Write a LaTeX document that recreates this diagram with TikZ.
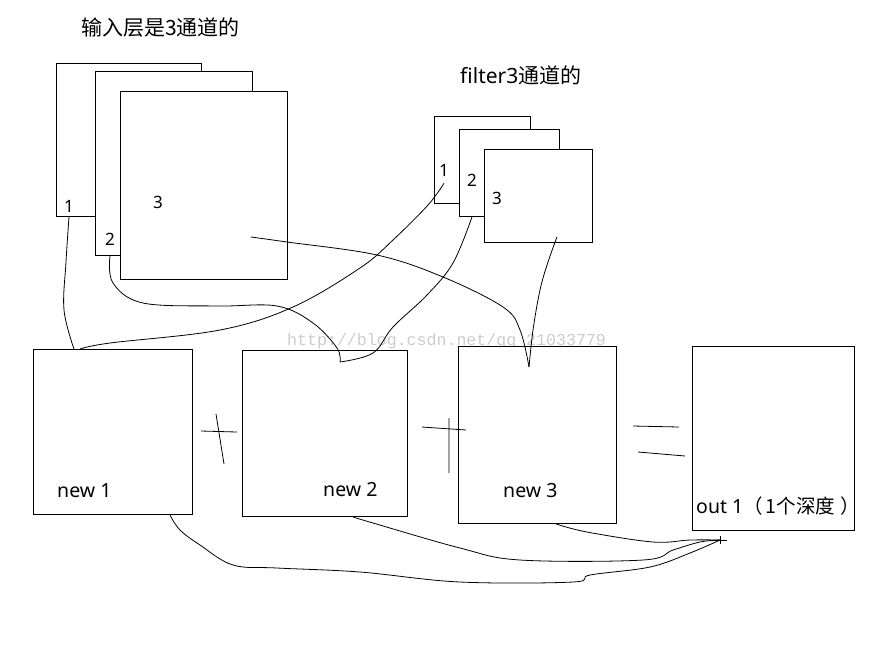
\documentclass[tikz,border=0pt]{standalone}
\usepackage{fontspec}
\setmainfont{Noto Sans}
\newfontfamily\cjk{Noto Sans CJK SC}
\newfontfamily\wmfont{Liberation Mono}

\begin{document}
\begin{tikzpicture}[x=1pt, y=-1pt,
    sheet/.style={rectangle, draw, fill=white, line width=0.9pt, inner sep=0pt, anchor=north west},
    hand/.style={line width=0.8pt},
    digit/.style={inner sep=0pt, font=\fontsize{17}{17}\selectfont},
    txt/.style={anchor=base west, inner sep=0pt, font=\fontsize{19.5}{22}\selectfont}]
    \useasboundingbox (0,0) rectangle (877,657);

    \node[anchor=base west, inner sep=0pt, text=black!20, font=\wmfont\fontsize{16.6}{17}\selectfont] (mark) at (287,345) {http://blog.csdn.net/qq\_21033779};

    % input layer, three channels
    \node[txt, font=\cjk\fontsize{21}{24}\selectfont] (intitle) at (81,35) {输入层是3通道的};
    \node[sheet, minimum width=145, minimum height=153] (in1) at (56,63) {};
    \node[sheet, minimum width=157, minimum height=184] (in2) at (95,71) {};
    \node[sheet, minimum width=167, minimum height=188] (in3) at (120,91) {};
    \node[digit] (lab1) at (69,206) {1};
    \node[digit] (lab2) at (110,239) {2};
    \node[digit] (lab3) at (158,202) {3};

    % filter, three channels
    \node[txt, font=\fontsize{21}{24}\selectfont] (ftitle) at (460,83) {filter3{\cjk 通道的}};
    \node[sheet, minimum width=96, minimum height=87] (f1) at (434,116) {};
    \node[sheet, minimum width=100, minimum height=87] (f2) at (459,129) {};
    \node[sheet, minimum width=108, minimum height=93] (f3) at (484,149) {};
    \node[digit] (lf1) at (444,170) {1};
    \node[digit] (lf2) at (472,180) {2};
    \node[digit] (lf3) at (497,198) {3};

    % results per channel and the output
    \node[sheet, minimum width=159, minimum height=165] (n1) at (33,349) {};
    \node[sheet, minimum width=165, minimum height=166] (n2) at (242,350) {};
    \node[sheet, minimum width=158, minimum height=177] (n3) at (458,346) {};
    \node[sheet, minimum width=162, minimum height=184] (out) at (692,346) {};
    \node[txt] (n1text) at (57,497) {new 1};
    \node[txt] (n2text) at (323,496) {new 2};
    \node[txt] (n3text) at (503,497) {new 3};
    \node[txt] (outtext) at (696,513) {out 1{\cjk （\hspace{3pt}1个深度\hspace{5pt}）}};

    \coordinate (hitA) at (74,349);
    \coordinate (hitB) at (340,362);
    \coordinate (hitC) at (529,367);
    \coordinate (hitD) at (720,540);
    \coordinate (srcC) at (251,237);
    \coordinate (srcF) at (557,237);

    % channel 1
    \draw[hand] plot[smooth, tension=0.6] coordinates {(lab1 |- in1.south) (66,262) (64,310) (hitA)};
    \draw[hand] plot[smooth, tension=0.6] coordinates {([yshift=-7]lf1.south) (428,205) (393,240) (360,268) (293,307) (220,330) (110,343) ([xshift=6]hitA)};
    % channel 2
    \draw[hand] plot[smooth, tension=0.6] coordinates {(lab2 |- in2.south) (113,283) (143,303) (217,306) (277,306) (313,323) (337,348) (hitB)};
    \draw[hand] plot[smooth, tension=0.6] coordinates {(lf2 |- f2.south) (453,263) (427,295) (393,327) (373,353) (hitB)};
    % channel 3
    \draw[hand] plot[smooth, tension=0.6] coordinates {(srcC) (287,242) (377,255) (443,277) (503,307) (520,330) (hitC)};
    \draw[hand] plot[smooth, tension=0.6] coordinates {(srcF) (548,262) (540,290) (533,330) (hitC)};

    % sum into out 1
    \draw[hand] plot[smooth, tension=0.6] coordinates {([xshift=-23]n1.south east) (180,530) (200,545) (233,565) (277,568) (360,572) (460,582) (573,582) (590,575) (650,567) (690,553) (hitD)};
    \draw[hand] plot[smooth, tension=0.6] coordinates {([xshift=-55]n2.south east) (373,523) (460,548) (520,560) (643,560) (673,550) (700,542) (hitD)};
    \draw[hand] plot[smooth, tension=0.6] coordinates {([xshift=-61]n3.south east) (587,532) (653,542) (690,540) (hitD)};
    \draw[hand] ([xshift=-6]hitD) -- ([xshift=7]hitD) ([yshift=4]hitD) -- ([yshift=-4]hitD);

    % plus, plus, equals
    \draw[hand] (201,431) -- (237,432) (216,414) -- (224,464);
    \draw[hand] (422,427) -- (466,430) (449,418) -- (449,473);
    \draw[hand] (633,426) -- (679,427) (638,452) -- (685,456);
\end{tikzpicture}
\end{document}
